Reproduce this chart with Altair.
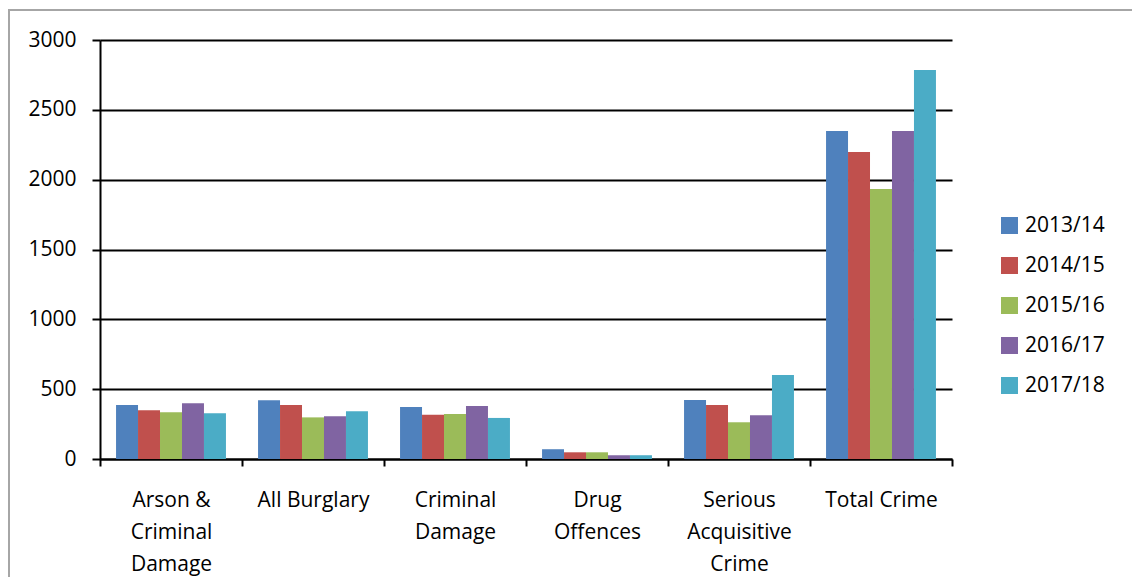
import altair as alt
import pandas as pd

categories = ["Arson &\nCriminal\nDamage", "All Burglary", "Criminal\nDamage",
              "Drug\nOffences", "Serious\nAcquisitive\nCrime", "Total Crime"]
years = ["2013/14", "2014/15", "2015/16", "2016/17", "2017/18"]
values = {
    "2013/14": [387, 421, 372, 70, 422, 2349],
    "2014/15": [349, 387, 316, 48, 386, 2198],
    "2015/16": [334, 298, 323, 48, 263, 1933],
    "2016/17": [399, 306, 379, 27, 313, 2349],
    "2017/18": [327, 342, 294, 27, 601, 2786],
}
colors = ["#4F81BD", "#C0504D", "#9BBB59", "#8064A2", "#4BACC6"]

rows = []
for y in years:
    for c, v in zip(categories, values[y]):
        rows.append({"cat": c, "year": y, "value": v})
df = pd.DataFrame(rows)

FONT = "Open Sans"
FS = 21

bars = alt.Chart(df).mark_bar().encode(
    x=alt.X("cat:N", sort=categories,
            scale=alt.Scale(paddingInner=0, paddingOuter=0),
            axis=alt.Axis(title=None, labelAngle=0, labelExpr="split(datum.label, '\\n')",
                          labelLineHeight=32, labelBaseline="top", labelPadding=23,
                          tickBand="extent", tickSize=7, tickColor="black", tickWidth=2,
                          domainColor="black", domainWidth=2, labelFontSize=FS,
                          labelFont=FONT, labelColor="black", grid=False)),
    xOffset=alt.XOffset("year:N", sort=years,
                        scale=alt.Scale(paddingInner=0, paddingOuter=0.73)),
    y=alt.Y("value:Q", scale=alt.Scale(domain=[0, 3000], nice=False),
            axis=alt.Axis(title=None, values=[0, 500, 1000, 1500, 2000, 2500, 3000],
                          format="d",
                          tickSize=8, tickColor="black", tickWidth=2, domainColor="black",
                          domainWidth=2, gridColor="black", gridWidth=2, gridOpacity=1,
                          labelFontSize=FS, labelFont=FONT, labelColor="black",
                          labelPadding=16)),
    color=alt.Color("year:N", sort=years, scale=alt.Scale(domain=years, range=colors),
                    legend=alt.Legend(title=None, orient="none", legendX=899, legendY=175,
                                      symbolType="square", symbolSize=289,
                                      symbolStrokeWidth=0, labelFontSize=FS,
                                      labelFont=FONT, labelColor="black",
                                      rowPadding=18, labelOffset=5)),
)

border = alt.Chart(alt.Data(values=[{"a": 1}])).mark_rect(
    fill=None, stroke="#a6a6a6", strokeWidth=2
).encode(x=alt.value(-91), x2=alt.value(1300), y=alt.value(-30), y2=alt.value(700))

chart = alt.layer(border, bars).properties(
    width=852, height=419,
    autosize=alt.AutoSizeParams(type="none"),
    padding={"left": 92, "top": 32, "right": 180, "bottom": 118},
).configure_view(stroke=None)

chart.save("out.html", embed_options={"renderer": "svg", "actions": False})
